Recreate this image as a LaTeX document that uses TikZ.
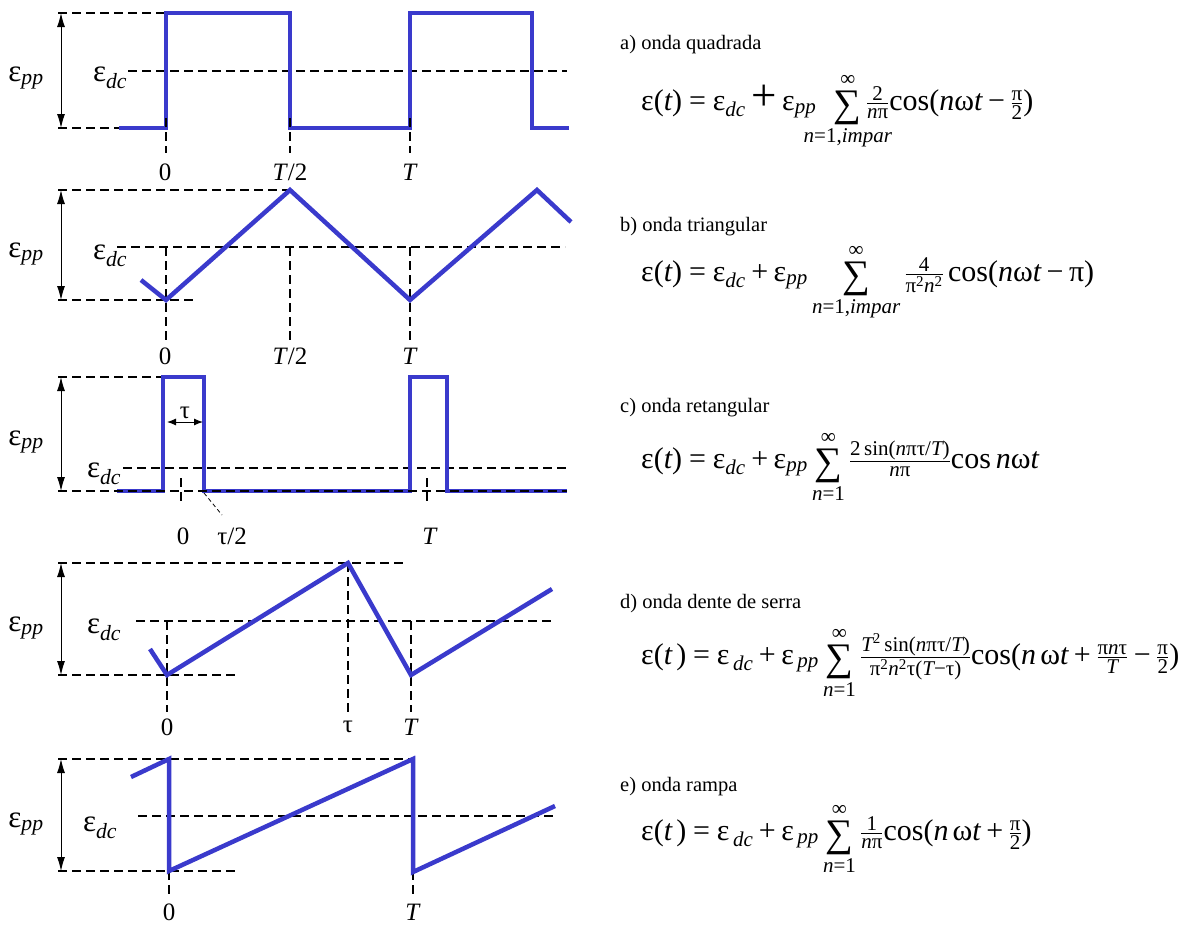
\documentclass[tikz,border=0pt]{standalone}
\usepackage{amsmath}
\usepackage{graphicx}
\usepackage{fontspec}
\setmainfont{Liberation Serif}
\usetikzlibrary{arrows.meta}
\definecolor{wavecol}{RGB}{58,58,204}
\newcommand\tx[1]{\text{#1}}
\newcommand\iv[1]{\text{\itshape #1}}
\newcommand\SUM{\mathop{\text{\raisebox{-0.2em}{\scalebox{1.3}{∑}}}}}
\newcommand\eqs{\mathrel{\tx{=}}}
\newcommand\pls{\mathbin{\tx{+}}}
\newcommand\mns{\mathbin{\tx{−}}}
\begin{document}
\begin{tikzpicture}[x=1pt,y=-1pt,
 wave/.style={draw=wavecol,line width=4.5pt,line join=miter},
 guide/.style={draw=black,line width=1.2pt,dash pattern=on 9pt off 5pt},
 dim/.style={draw=black,line width=1pt,{Latex[length=14pt,width=8pt]}-{Latex[length=14pt,width=8pt]}},
 smalldim/.style={draw=black,line width=1pt,{Latex[length=9pt,width=7pt]}-{Latex[length=9pt,width=7pt]}},
 lab/.style={font=\fontsize{25}{28}\selectfont, inner sep=0pt},
 eps/.style={font=\fontsize{31}{34}\selectfont, inner sep=0pt},
 captxt/.style={font=\fontsize{20.5}{24}\selectfont, anchor=base west, inner sep=0pt},
 eqtxt/.style={font=\fontsize{30}{34}\selectfont, anchor=base west, inner sep=0pt}]
\useasboundingbox (0,0) rectangle (1194,924);

% ---------- a) square wave ----------
\draw[guide] (58,13) -- (166,13);
\draw[guide] (58,128) -- (166,128);
\draw[guide] (128,71) -- (567,71);
\draw[dim] (61,13) -- (61,128);
\draw[wave] (119,128) -- (166,128) -- (166,13) -- (290,13) -- (290,128) -- (410,128) -- (410,13) -- (532,13) -- (532,128) -- (569,128);
\draw[guide] (166,118) -- (166,153);
\draw[guide] (290,118) -- (290,153);
\draw[guide] (410,118) -- (410,153);
\node[eps] (a-pp) at (26,78) {$\tx{ε}_{\iv{pp}}$};
\node[eps] (a-dc) at (110,78) {$\tx{ε}_{\iv{dc}}$};
\node[lab] (a-0) at (165,172) {0};
\node[lab] (a-T2) at (290,172) {\textit{T}/2};
\node[lab] (a-T) at (410,172) {\textit{T}};

% ---------- b) triangle wave ----------
\draw[guide] (58,190) -- (290,190);
\draw[guide] (58,300) -- (193,300);
\draw[guide] (117,247) -- (565,247);
\draw[guide] (166,247) -- (166,342);
\draw[guide] (290,247) -- (290,342);
\draw[guide] (410,247) -- (410,342);
\draw[dim] (61,190) -- (61,300);
\draw[wave] (141,280) -- (166,300) -- (290,190) -- (410,300) -- (537,190) -- (571,222);
\node[eps] (b-pp) at (26,254) {$\tx{ε}_{\iv{pp}}$};
\node[eps] (b-dc) at (110,256) {$\tx{ε}_{\iv{dc}}$};
\node[lab] (b-0) at (165,356) {0};
\node[lab] (b-T2) at (290,356) {\textit{T}/2};
\node[lab] (b-T) at (410,356) {\textit{T}};

% ---------- c) rectangular pulses ----------
\draw[guide] (58,377) -- (163,377);
\draw[guide] (123,468) -- (567,468);
\draw[dim] (61,377) -- (61,491);
\draw[wave] (117,491) -- (163,491) -- (163,377) -- (204,377) -- (204,491) -- (410,491) -- (410,377) -- (447,377) -- (447,491) -- (567,491);
\draw[guide] (58,491) -- (567,491);
\draw[guide] (181,478) -- (181,505);
\draw[guide] (427,478) -- (427,505);
\draw[draw=black,line width=0.8pt,dash pattern=on 4pt off 3pt] (204,493) -- (222,515);
\draw[smalldim] (167,422) -- (203,422);
\node[lab] (c-tau) at (185,413) {τ};
\node[eps] (c-pp) at (26,442) {$\tx{ε}_{\iv{pp}}$};
\node[eps] (c-dc) at (104,474) {$\tx{ε}_{\iv{dc}}$};
\node[lab] (c-0) at (183,536) {0};
\node[lab] (c-t2) at (232,536) {τ/2};
\node[lab] (c-T) at (430,536) {\textit{T}};

% ---------- d) sawtooth ----------
\draw[guide] (58,563) -- (405,563);
\draw[guide] (58,675) -- (238,675);
\draw[guide] (136,621) -- (551,621);
\draw[guide] (167,621) -- (167,712);
\draw[guide] (348,563) -- (348,712);
\draw[guide] (411,621) -- (411,712);
\draw[dim] (61,563) -- (61,675);
\draw[wave] (150,649) -- (167,675) -- (348,563) -- (411,675) -- (552,589);
\node[eps] (d-pp) at (26,628) {$\tx{ε}_{\iv{pp}}$};
\node[eps] (d-dc) at (104,630) {$\tx{ε}_{\iv{dc}}$};
\node[lab] (d-0) at (167,727) {0};
\node[lab] (d-tau) at (348,727) {τ};
\node[lab] (d-T) at (411,727) {\textit{T}};

% ---------- e) ramp ----------
\draw[guide] (58,759) -- (413,759);
\draw[guide] (58,871) -- (238,871);
\draw[guide] (138,816) -- (553,816);
\draw[guide] (169,871) -- (169,895);
\draw[guide] (413,871) -- (413,895);
\draw[dim] (61,759) -- (61,871);
\draw[wave] (131,777) -- (169,759) -- (169,871) -- (413,759) -- (413,872) -- (555,806);
\node[eps] (e-pp) at (26,824) {$\tx{ε}_{\iv{pp}}$};
\node[eps] (e-dc) at (100,828) {$\tx{ε}_{\iv{dc}}$};
\node[lab] (e-0) at (169,912) {0};
\node[lab] (e-T) at (413,912) {\textit{T}};

% ---------- captions and formulas ----------
\node[captxt] (ca) at (620,49) {a) onda quadrada};
\node[eqtxt] (fa) at (641,110) {$\displaystyle \tx{ε(}\iv{t}\tx{)} \eqs \tx{ε}_{\iv{dc}} \mathbin{\tx{\scalebox{1.5}{+}}} \tx{ε}_{\iv{pp}}\hspace{0.45em} \SUM\limits_{\tx{\makebox[0pt]{\itshape n\upshape =1,\itshape impar}}}^{\tx{∞}} \tfrac{\tx{2}}{\iv{n}\tx{π}}\tx{cos(}\iv{n}\tx{ω}\iv{t} \mns \tfrac{\tx{π}}{\tx{2}}\tx{)}$};

\node[captxt] (cb) at (620,231) {b) onda triangular};
\node[eqtxt] (fb) at (641,281) {$\displaystyle \tx{ε(}\iv{t}\tx{)} \eqs \tx{ε}_{\iv{dc}} \pls \tx{ε}_{\iv{pp}} \SUM\limits_{\iv{n}\tx{=1,}\iv{impar}}^{\tx{∞}} \tfrac{\tx{4}}{\tx{π}^{\tx{2}}\iv{n}^{\tx{2}}}\,\tx{cos(}\iv{n}\tx{ω}\iv{t} \mns \tx{π)}$};

\node[captxt] (cc) at (620,412) {c) onda retangular};
\node[eqtxt] (fc) at (641,468) {$\displaystyle \tx{ε(}\iv{t}\tx{)} \eqs \tx{ε}_{\iv{dc}} \pls \tx{ε}_{\iv{pp}} \SUM\limits_{\iv{n}\tx{=1}}^{\tx{∞}} \tfrac{\tx{2\,sin(}\iv{n}\tx{πτ/}\iv{T}\tx{)}}{\iv{n}\tx{π}}\tx{cos\,}\iv{n}\tx{ω}\iv{t}$};

\node[captxt] (cd) at (620,608) {d) onda dente de serra};
\node[eqtxt] (fd) at (641,664) {$\displaystyle \tx{ε(}\iv{t}\,\tx{)} \eqs \tx{ε}_{\,\iv{dc}} \pls \tx{ε}_{\,\iv{pp}} \SUM\limits_{\iv{n}\tx{=1}}^{\tx{∞}} \tfrac{\iv{T}^{\tx{2}}\tx{\,sin(}\iv{n}\tx{πτ/}\iv{T}\tx{)}}{\tx{π}^{\tx{2}}\iv{n}^{\tx{2}}\tx{τ(}\iv{T}\mns\tx{τ)}}\tx{cos(}\iv{n}\,\tx{ω}\iv{t} \pls \tfrac{\tx{π}\iv{n}\tx{τ}}{\iv{T}} \mns \tfrac{\tx{π}}{\tx{2}}\tx{)}$};

\node[captxt] (ce) at (620,791) {e) onda rampa};
\node[eqtxt] (fe) at (641,840) {$\displaystyle \tx{ε(}\iv{t}\,\tx{)} \eqs \tx{ε}_{\,\iv{dc}} \pls \tx{ε}_{\,\iv{pp}} \SUM\limits_{\iv{n}\tx{=1}}^{\tx{∞}} \tfrac{\tx{1}}{\iv{n}\tx{π}}\tx{cos(}\iv{n}\,\tx{ω}\iv{t} \pls \tfrac{\tx{π}}{\tx{2}}\tx{)}$};
\end{tikzpicture}
\end{document}
